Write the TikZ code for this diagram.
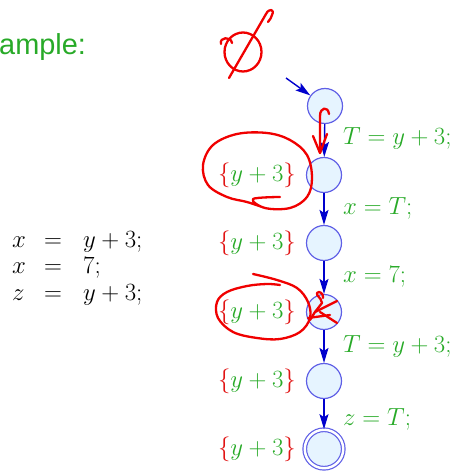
\documentclass[tikz,border=0pt]{standalone}
\usepackage{fontspec}
\newfontfamily\sansf{Liberation Sans}
\usetikzlibrary{arrows.meta}
\definecolor{tgreen}{RGB}{40,170,40}
\definecolor{bred}{RGB}{225,20,20}
\definecolor{nblue}{RGB}{95,95,230}
\definecolor{nfill}{RGB}{230,244,255}
\definecolor{ablue}{RGB}{0,0,205}
\definecolor{penred}{RGB}{240,0,0}
\begin{document}
\begin{tikzpicture}[x=1bp,y=-1bp,
  st/.style={circle,draw=nblue,fill=nfill,line width=1.2bp,minimum size=35bp,inner sep=0},
  fin/.style={circle,draw=nblue,fill=nfill,line width=1.2bp,double=white,double distance=2.4bp,minimum size=38.5bp,inner sep=0},
  flow/.style={ablue,line width=1.4bp,-{Stealth[length=15bp,width=9bp,inset=3bp]}},
  mfont/.style={font=\fontsize{23}{27}\selectfont},
  lab/.style={mfont,text=tgreen,anchor=west,inner sep=0},
  setlab/.style={mfont,anchor=east,inner sep=0},
  eq/.style={mfont,inner sep=0},
  ink/.style={penred,line width=2.3bp,line cap=round,line join=round}
]
\useasboundingbox (0,0) rectangle (458,472);

% title
\node[font=\sansf\fontsize{29}{32}\selectfont,text=tgreen,anchor=base west,inner sep=0] (title) at (-1,55) {ample:};

% program
\node[eq,anchor=base west] (e1l) at (12,247) {$x$};
\node[eq,anchor=base] (e1m) at (53,247) {$=$};
\node[eq,anchor=base west] (e1r) at (83,247) {$y+3;$};
\node[eq,anchor=base west] (e2l) at (12,273) {$x$};
\node[eq,anchor=base] (e2m) at (53,273) {$=$};
\node[eq,anchor=base west] (e2r) at (83,273) {$7;$};
\node[eq,anchor=base west] (e3l) at (12,300) {$z$};
\node[eq,anchor=base] (e3m) at (53,300) {$=$};
\node[eq,anchor=base west] (e3r) at (83,300) {$y+3;$};

% graph
\node[st] (n1) at (325,106) {};
\node[st] (n2) at (324,175) {};
\node[st] (n3) at (324,243) {};
\node[st] (n4) at (324,312) {};
\node[st] (n5) at (324,381) {};
\node[fin] (n6) at (324,449) {};

\coordinate (in) at (286,78);
\draw[flow] (in) -- (n1);
\draw[flow] (n1) -- (n2);
\draw[flow] (n2) -- (n3);
\draw[flow] (n3) -- (n4);
\draw[flow] (n4) -- (n5);
\draw[flow] (n5) -- (n6);

\node[lab] (l1) at (343,138) {$T=y+3;$};
\node[lab] (l2) at (343,208) {$x=T;$};
\node[lab] (l3) at (343,277) {$x=7;$};
\node[lab] (l4) at (343,346) {$T=y+3;$};
\node[lab] (l5) at (343,419) {$z=T;$};

\newcommand{\ysetlab}{$\color{bred}\{\color{tgreen}y+3\color{bred}\}$}
\node[setlab] (s2) at (296,175) {\ysetlab};
\node[setlab] (s3) at (296,243) {\ysetlab};
\node[setlab] (s4) at (296,312) {\ysetlab};
\node[setlab] (s5) at (296,381) {\ysetlab};
\node[setlab] (s6) at (296,449) {\ysetlab};

% hand-drawn annotations
\draw[ink] (243,52) ellipse [x radius=18.5, y radius=19.5];
\draw[ink] (221,44) .. controls (219,37) and (231,36) .. (232,43);
\draw[ink] (229,78) -- (266,14) .. controls (269,8) and (275,9) .. (272,15) .. controls (271,18) .. (268,22);

\draw[ink] (329,114) .. controls (328,106) and (320,107) .. (320,116) -- (320,153);
\draw[ink] (313,136) -- (320,153) -- (327,134);

\draw[ink] plot[smooth,tension=0.6] coordinates {(280,197) (253,199) (265,208) (290,208) (307,197) (312,178) (307,155) (290,140) (267,133) (237,134) (213,145) (203,165) (208,185) (227,197) (247,202) (262,207)};

\draw[ink] plot[smooth,tension=0.6] coordinates {(253,274) (277,280) (297,288) (308,302) (310,318) (300,332) (280,339) (257,338) (233,332) (218,318) (217,302) (227,292) (247,286) (267,284) (280,285)};

\draw[ink] (310,320) -- (315,312) -- (322,303) .. controls (321,297) and (316,296) .. (317,293) .. controls (319,290) and (324,294) .. (323,298);
\draw[ink] (315,312) -- (337,301);
\draw[ink] (320,312) -- (337,323);
\draw[ink] (308,318) -- (330,315);
\end{tikzpicture}
\end{document}
